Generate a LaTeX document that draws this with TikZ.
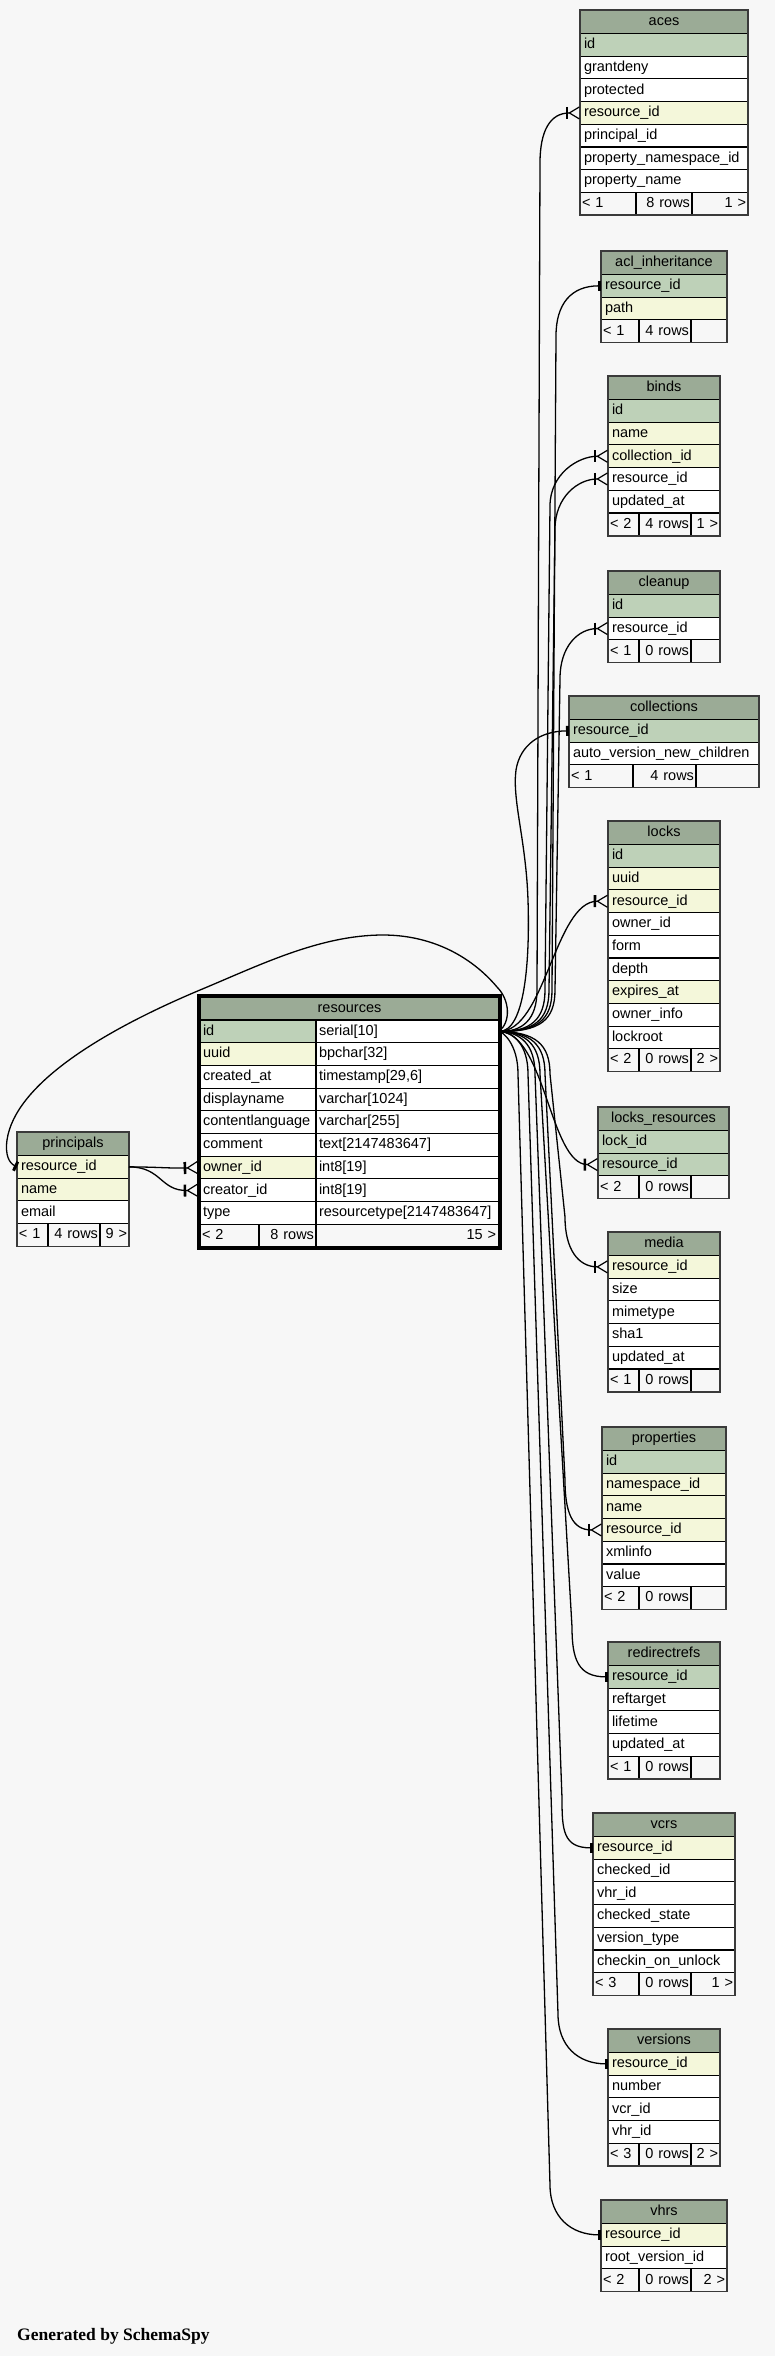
\documentclass[tikz,border=0pt]{standalone}
\usepackage{fontspec}
\setmainfont{Liberation Sans}
\newfontfamily\genfont{Liberation Serif}
\usetikzlibrary{arrows.meta,calc}
\definecolor{bgc}{HTML}{F7F7F7}
\definecolor{hdr}{HTML}{9BAB96}
\definecolor{pk}{HTML}{BED1B8}
\definecolor{idx}{HTML}{F4F7DA}
\definecolor{wht}{HTML}{FFFFFF}
\definecolor{ftr}{HTML}{F7F7F7}
\definecolor{tbl}{HTML}{3A3A3A}
\newcommand\rowfont{\fontsize{14.5}{17}\selectfont}
\def\hh{23.5}
\def\rh{22.7}
\tikzset{
 cell/.style={draw=black, line width=1.1pt, inner xsep=4pt, inner ysep=0pt, outer sep=0pt, anchor=north west, font=\rowfont, text height=10.5pt, text depth=3pt},
 fcell/.style={cell, fill=ftr, inner xsep=2pt, minimum height=\rh pt},
 tblborder/.style={draw=tbl, line width=1.6pt},
 conn/.style={draw=black, line width=1.3pt},
 many/.style={-{Bar[width=12pt,line width=2.6pt] Straight Barb[reversed,length=10pt,width=12pt,line width=1.2pt]}},
 one/.style={-{Bar[width=10pt,line width=3pt]}},
}
% #1 name, #2 title, #3 x1, #4 x2, #5 top, #6 rows, #7 footer spec
\newcommand\dbtable[7]{%
  \pgfmathsetmacro\tw{#4-#3}%
  \pgfmathsetmacro\tww{#4-#3-8}%
  \node[cell, fill=hdr, minimum width=\tw pt, minimum height=\hh pt, text width=\tww pt, align=center] (#1) at (#3,#5) {#2};%
  \foreach \rtext/\rcolr [count=\ri] in {#6} {%
    \node[cell, fill=\rcolr, minimum width=\tw pt, minimum height=\rh pt, text width=\tww pt, align=left] (#1-\ri) at (#3,{#5+\hh+(\ri-1)*\rh}) {\rtext};%
    \xdef\nrows{\ri}%
  }%
  \def\cname{#1}\def\cxa{#3}\def\cxb{#4}%
  \pgfmathsetmacro\cfy{#5+\hh+\nrows*\rh}%
  \dbfoot#7%
  \draw[tblborder] (#3,#5) rectangle (#4,{\cfy+\rh});%
}
\newcommand\dbfoot[5]{%
  \pgfmathsetmacro\fwa{#1-\cxa}\pgfmathsetmacro\fwaa{#1-\cxa-4}%
  \pgfmathsetmacro\fwb{#2-#1}\pgfmathsetmacro\fwbb{#2-#1-4}%
  \pgfmathsetmacro\fwc{\cxb-#2}\pgfmathsetmacro\fwcc{\cxb-#2-4}%
  \node[fcell, minimum width=\fwa pt, text width=\fwaa pt, align=left] (\cname-fa) at (\cxa,\cfy) {\mbox{#3}};%
  \node[fcell, minimum width=\fwb pt, text width=\fwbb pt, align=right] (\cname-fb) at (#1,\cfy) {\mbox{#4}};%
  \node[fcell, minimum width=\fwc pt, text width=\fwcc pt, align=right] (\cname-fc) at (#2,\cfy) {\mbox{#5}};%
}
% tip, target, x1, x2, target y
\newcommand\upconn[5]{\draw[conn,#1] (res-t1.east) .. controls (#3-15,1032) and (#3,1020) .. (#3,990) -- (#4,#5+50) .. controls (#4,#5+18) and ($(#2.west)+(-30,0)$) .. (#2.west);}
\newcommand\downconn[5]{\draw[conn,#1] (res-t1.east) .. controls (#3-15,1032) and (#3,1044) .. (#3,1074) -- (#4,#5-50) .. controls (#4,#5-18) and ($(#2.west)+(-30,0)$) .. (#2.west);}
\begin{document}
\begin{tikzpicture}[x=1pt,y=-1pt]
\useasboundingbox (0,0) rectangle (775,2356);
\fill[bgc] (0,0) rectangle (775,2356);

\dbtable{aces}{aces}{580}{748}{10}{id/pk, grantdeny/wht, protected/wht, resource\_id/idx, principal\_id/wht, property\_namespace\_id/wht, property\_name/wht}{{636}{692}{< 1}{8 rows}{1 >}}
\dbtable{acl}{acl\_inheritance}{601}{727}{251}{resource\_id/pk, path/idx}{{639}{691}{< 1}{4 rows}{}}
\dbtable{binds}{binds}{608}{720}{376}{id/pk, name/idx, collection\_id/idx, resource\_id/wht, updated\_at/wht}{{639}{691}{< 2}{4 rows}{1 >}}
\dbtable{cleanup}{cleanup}{608}{720}{571}{id/pk, resource\_id/wht}{{639}{691}{< 1}{0 rows}{}}
\dbtable{coll}{collections}{569}{759}{696}{resource\_id/pk, auto\_version\_new\_children/wht}{{633}{696}{< 1}{4 rows}{}}
\dbtable{locks}{locks}{608}{720}{821}{id/pk, uuid/idx, resource\_id/idx, owner\_id/wht, form/wht, depth/wht, expires\_at/idx, owner\_info/wht, lockroot/wht}{{639}{691}{< 2}{0 rows}{2 >}}
\dbtable{lr}{locks\_resources}{598}{729}{1107}{lock\_id/pk, resource\_id/pk}{{639}{691}{< 2}{0 rows}{}}
\dbtable{media}{media}{608}{720}{1232}{resource\_id/idx, size/wht, mimetype/wht, sha1/wht, updated\_at/wht}{{639}{691}{< 1}{0 rows}{}}
\dbtable{props}{properties}{602}{726}{1427}{id/pk, namespace\_id/idx, name/idx, resource\_id/idx, xmlinfo/wht, value/wht}{{639}{691}{< 2}{0 rows}{}}
\dbtable{redir}{redirectrefs}{608}{720}{1642}{resource\_id/pk, reftarget/wht, lifetime/wht, updated\_at/wht}{{639}{691}{< 1}{0 rows}{}}
\dbtable{vcrs}{vcrs}{593}{735}{1813}{resource\_id/idx, checked\_id/wht, vhr\_id/wht, checked\_state/wht, version\_type/wht, checkin\_on\_unlock/wht}{{639}{691}{< 3}{0 rows}{1 >}}
\dbtable{versions}{versions}{608}{720}{2029}{resource\_id/idx, number/wht, vcr\_id/wht, vhr\_id/wht}{{639}{691}{< 3}{0 rows}{2 >}}
\dbtable{vhrs}{vhrs}{601}{727}{2200}{resource\_id/idx, root\_version\_id/wht}{{639}{691}{< 2}{0 rows}{2 >}}
\dbtable{pr}{principals}{17}{129}{1132}{resource\_id/idx, name/idx, email/wht}{{48}{100}{< 1}{4 rows}{9 >}}

% resources
\node[cell, fill=hdr, minimum width=299pt, minimum height=23pt, text width=291pt, align=center] (res) at (200,997) {resources};
\foreach \rname/\rcolr/\rtype [count=\ri] in {id/pk/serial[10], uuid/idx/bpchar[32], created\_at/wht/{timestamp[29,6]}, displayname/wht/varchar[1024], contentlanguage/wht/varchar[255], comment/wht/text[2147483647], owner\_id/idx/int8[19], creator\_id/wht/int8[19], type/wht/resourcetype[2147483647]} {
  \node[cell, fill=\rcolr, inner xsep=3pt, minimum width=116pt, minimum height=\rh pt, text width=110pt, align=left] (res-n\ri) at (200,{1020+(\ri-1)*\rh}) {\rname};
  \node[cell, fill=wht, inner xsep=3pt, minimum width=183pt, minimum height=\rh pt, text width=177pt, align=left] (res-t\ri) at (316,{1020+(\ri-1)*\rh}) {\rtype};
}
\node[fcell, minimum width=59pt, text width=55pt, align=left] (res-fa) at (200,1224.3) {\mbox{< 2}};
\node[fcell, minimum width=57pt, text width=53pt, align=right] (res-fb) at (259,1224.3) {\mbox{8 rows}};
\node[fcell, minimum width=183pt, text width=177pt, align=right] (res-fc) at (316,1224.3) {\mbox{15 >}};
\draw[draw=black, line width=3pt] (198.5,995.5) rectangle (500.5,1248.5);

% connectors
\upconn{many}{aces-4}{537}{540}{113}
\upconn{one}{acl-1}{552}{556}{286}
\upconn{many}{binds-3}{545}{550}{456}
\upconn{many}{binds-4}{549}{555}{479}
\upconn{many}{cleanup-2}{555}{560}{628.5}
\draw[conn,one] (res-t1.east) .. controls (525,1032) and (530,960) .. (528,900) .. controls (526,840) and (512,800) .. (516,770) .. controls (520,745) and (540,731) .. (coll-1.west);
\draw[conn,many] (res-t1.east) .. controls (545,1032) and (555,901) .. (locks-3.west);
\draw[conn,many] (res-t1.east) .. controls (545,1032) and (550,1164.5) .. (lr-2.west);
\downconn{many}{media-1}{550}{565}{1267}
\downconn{many}{props-4}{545}{565}{1530}
\downconn{one}{redir-1}{540}{572}{1677}
\downconn{one}{vcrs-1}{535}{562}{1848}
\downconn{one}{versions-1}{528}{558}{2064}
\downconn{one}{vhrs-1}{518}{550}{2235}
\draw[conn,one] (res-t1.east) .. controls (511,1022) and (510,1000) .. (497,987) .. controls (470,955) and (430,935) .. (383,935) .. controls (320,935) and (260,965) .. (200,990) .. controls (100,1032) and (15,1085) .. (7,1140) .. controls (5,1155) and (9,1163) .. (pr-1.west);
\draw[conn,many] (pr-1.east) .. controls (160,1167) and (170,1168.5) .. ($(res-n7.west)+(-2,0)$);
\draw[conn,many] (pr-1.east) .. controls (162,1167) and (160,1191) .. ($(res-n8.west)+(-2,0)$);

\node[anchor=base west, inner sep=0pt, font=\genfont\bfseries\fontsize{17.5}{20}\selectfont] (gen) at (17,2340) {Generated by SchemaSpy};
\end{tikzpicture}
\end{document}
